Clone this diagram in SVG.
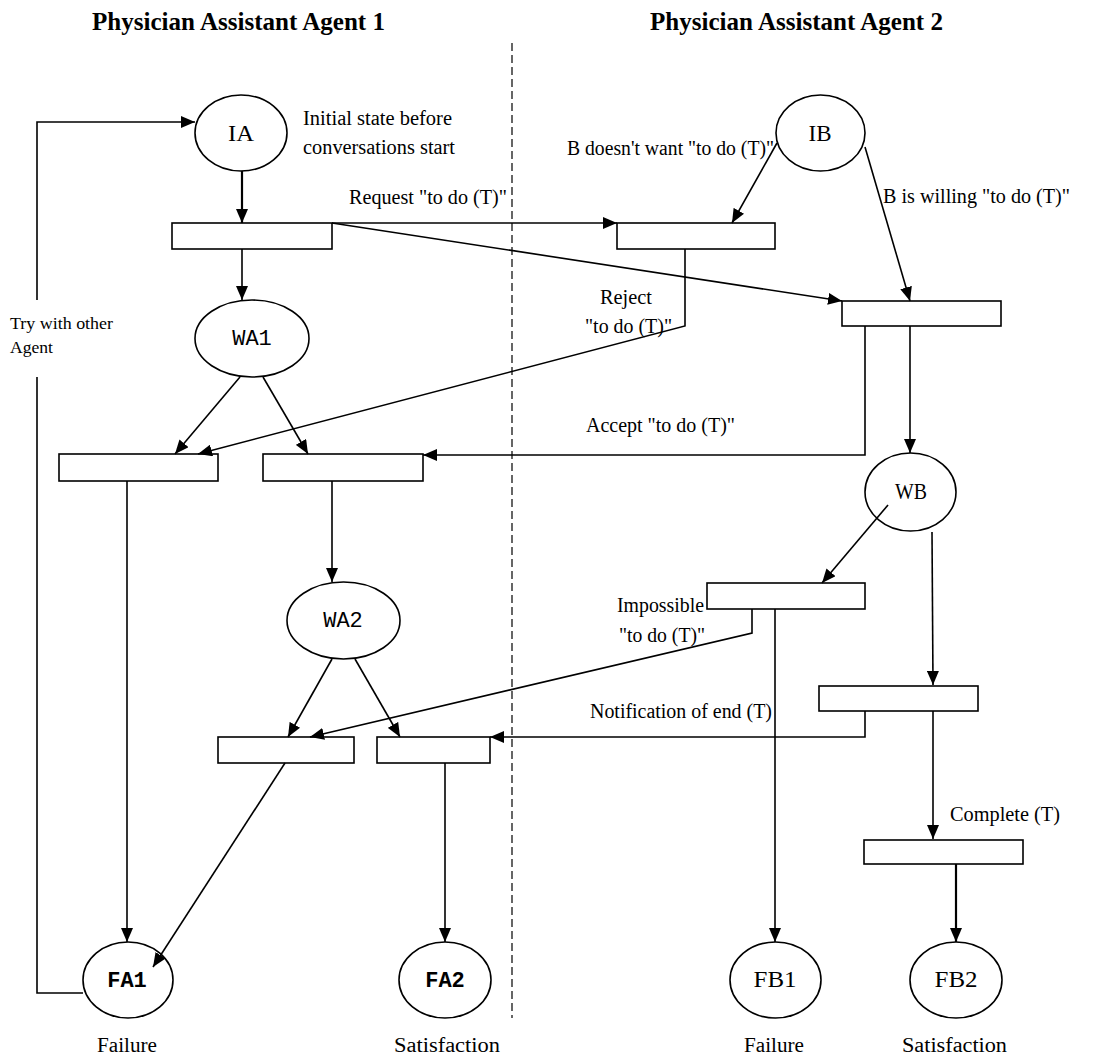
<svg xmlns="http://www.w3.org/2000/svg" width="1113" height="1057" viewBox="0 0 1113 1057">
<style>
.bg{fill:#fff}
.place ellipse{fill:#fff;stroke:#000;stroke-width:1.6}
.trans rect{fill:#fff;stroke:#000;stroke-width:1.6}
.lbl{font-family:"Liberation Serif","Times New Roman",serif;font-size:23px;fill:#000;text-anchor:middle}
.mono{font-family:"Liberation Mono","Courier New",monospace;font-size:22px;fill:#000;text-anchor:middle}
.monob{font-family:"Liberation Mono","Courier New",monospace;font-size:22px;font-weight:bold;fill:#000;text-anchor:middle}
.title{font-family:"Liberation Serif","Times New Roman",serif;font-size:25px;font-weight:bold;fill:#000}
.t{font-family:"Liberation Serif","Times New Roman",serif;font-size:20px;fill:#000}
.ts{font-family:"Liberation Serif","Times New Roman",serif;font-size:17px;fill:#000}
.c{fill:none;stroke:#000;stroke-width:1.6;marker-end:url(#ah)}
.thick{stroke-width:2.2}
</style>
<defs>
<marker id="ah" viewBox="0 0 14 12" refX="14" refY="6" markerWidth="14" markerHeight="12" markerUnits="userSpaceOnUse" orient="auto">
<path d="M0,0 L14,6 L0,12 z" fill="#000"/>
</marker>
</defs>
<rect class="bg" x="0" y="0" width="1113" height="1057"/>

<text class="title" x="92" y="30" textLength="293" lengthAdjust="spacingAndGlyphs">Physician Assistant Agent 1</text>
<text class="title" x="650" y="30" textLength="293" lengthAdjust="spacingAndGlyphs">Physician Assistant Agent 2</text>

<line x1="512" y1="43" x2="512" y2="1018" stroke="#000" stroke-width="1.2" stroke-dasharray="8,4"/>

<g id="IA" class="place"><ellipse cx="241" cy="133" rx="46" ry="38"/><text class="lbl" x="241" y="141" textLength="26" lengthAdjust="spacingAndGlyphs">IA</text></g>
<g id="IB" class="place"><ellipse cx="820.5" cy="133" rx="44.5" ry="38"/><text class="lbl" x="820" y="141" textLength="23" lengthAdjust="spacingAndGlyphs">IB</text></g>
<g id="WA1" class="place"><ellipse cx="252" cy="338.5" rx="57" ry="38.5"/><text class="mono" x="252" y="345">WA1</text></g>
<g id="WB" class="place"><ellipse cx="910.5" cy="492" rx="45.5" ry="39"/><text class="lbl" x="911" y="499" textLength="32" lengthAdjust="spacingAndGlyphs">WB</text></g>
<g id="WA2" class="place"><ellipse cx="343.5" cy="620.5" rx="56.5" ry="38.5"/><text class="mono" x="343" y="627">WA2</text></g>
<g id="FA1" class="place"><ellipse cx="128" cy="980" rx="45" ry="38"/><text class="monob" x="127" y="987">FA1</text></g>
<g id="FA2" class="place"><ellipse cx="445" cy="980" rx="46" ry="38"/><text class="monob" x="445" y="987">FA2</text></g>
<g id="FB1" class="place"><ellipse cx="775.5" cy="980" rx="45.5" ry="38"/><text class="lbl" x="775" y="987" textLength="43" lengthAdjust="spacingAndGlyphs">FB1</text></g>
<g id="FB2" class="place"><ellipse cx="956" cy="980" rx="46" ry="38"/><text class="lbl" x="956" y="987" textLength="43" lengthAdjust="spacingAndGlyphs">FB2</text></g>

<g id="T1" class="trans"><rect x="172" y="223" width="160" height="26"/></g>
<g id="T2" class="trans"><rect x="617" y="223" width="158" height="26"/></g>
<g id="T3" class="trans"><rect x="842" y="301" width="159" height="25"/></g>
<g id="T4" class="trans"><rect x="59" y="454" width="159" height="27"/></g>
<g id="T5" class="trans"><rect x="263" y="454" width="160" height="27"/></g>
<g id="T6" class="trans"><rect x="707" y="583" width="158" height="26"/></g>
<g id="T7" class="trans"><rect x="819" y="686" width="159" height="25"/></g>
<g id="T8" class="trans"><rect x="218" y="737" width="136" height="26"/></g>
<g id="T9" class="trans"><rect x="377" y="737" width="113" height="26"/></g>
<g id="T10" class="trans"><rect x="864" y="840" width="159" height="24"/></g>

<g id="connectors">
<line class="c thick" x1="242" y1="171" x2="242" y2="223"/>
<line class="c" x1="242" y1="249" x2="242" y2="300"/>
<line class="c" x1="332" y1="223" x2="617" y2="223"/>
<line class="c" x1="332" y1="223" x2="842" y2="301"/>
<line class="c" x1="777" y1="143" x2="732" y2="223"/>
<line class="c" x1="865" y1="147" x2="910" y2="301"/>
<polyline class="c" points="685,249 685,326 198,454"/>
<polyline class="c" points="865,326 865,455 423,455"/>
<line class="c" x1="910" y1="326" x2="910" y2="453"/>
<line class="c" x1="240" y1="377" x2="175" y2="454"/>
<line class="c" x1="263" y1="377" x2="308" y2="454"/>
<line class="c" x1="127" y1="481" x2="127" y2="942"/>
<line class="c" x1="332" y1="481" x2="332" y2="582"/>
<line class="c" x1="888" y1="505" x2="822" y2="583"/>
<line class="c" x1="932" y1="532" x2="933" y2="685"/>
<line class="c" x1="775" y1="609" x2="775" y2="942"/>
<polyline class="c" points="752,609 752,633 310,737"/>
<polyline class="c" points="865,711 865,737 490,737"/>
<line class="c" x1="933" y1="711" x2="933" y2="839"/>
<line class="c thick" x1="956" y1="864" x2="956" y2="942"/>
<line class="c" x1="332" y1="659" x2="288" y2="737"/>
<line class="c" x1="355" y1="659" x2="400" y2="737"/>
<line class="c" x1="285" y1="763" x2="153" y2="967"/>
<line class="c" x1="445" y1="763" x2="445" y2="942"/>
<path class="c" d="M83,993 H37 V377 M37,300 V122 H195"/>
</g>

<g id="labels">
<text class="t" x="303" y="125" textLength="149" lengthAdjust="spacingAndGlyphs">Initial state before</text>
<text class="t" x="303" y="154" textLength="152" lengthAdjust="spacingAndGlyphs">conversations start</text>
<text class="t" x="349" y="204" textLength="158" lengthAdjust="spacingAndGlyphs">Request "to do (T)"</text>
<text class="t" x="567" y="155" textLength="207" lengthAdjust="spacingAndGlyphs">B doesn't want "to do (T)"</text>
<text class="t" x="883" y="203" textLength="187" lengthAdjust="spacingAndGlyphs">B is willing "to do (T)"</text>
<text class="t" x="600" y="304" textLength="52" lengthAdjust="spacingAndGlyphs">Reject</text>
<text class="t" x="585" y="333" textLength="87" lengthAdjust="spacingAndGlyphs">"to do (T)"</text>
<text class="ts" x="10" y="329" textLength="103" lengthAdjust="spacingAndGlyphs">Try with other</text>
<text class="ts" x="10" y="353" textLength="43" lengthAdjust="spacingAndGlyphs">Agent</text>
<text class="t" x="586" y="432" textLength="149" lengthAdjust="spacingAndGlyphs">Accept "to do (T)"</text>
<text class="t" x="617" y="612" textLength="87" lengthAdjust="spacingAndGlyphs">Impossible</text>
<text class="t" x="619" y="642" textLength="86" lengthAdjust="spacingAndGlyphs">"to do (T)"</text>
<text class="t" x="590" y="718" textLength="182" lengthAdjust="spacingAndGlyphs">Notification of end (T)</text>
<text class="t" x="950" y="821" textLength="110" lengthAdjust="spacingAndGlyphs">Complete (T)</text>
<text class="t" x="97" y="1052" textLength="60" lengthAdjust="spacingAndGlyphs">Failure</text>
<text class="t" x="394" y="1052" textLength="106" lengthAdjust="spacingAndGlyphs">Satisfaction</text>
<text class="t" x="744" y="1052" textLength="60" lengthAdjust="spacingAndGlyphs">Failure</text>
<text class="t" x="902" y="1052" textLength="105" lengthAdjust="spacingAndGlyphs">Satisfaction</text>
</g>
</svg>
